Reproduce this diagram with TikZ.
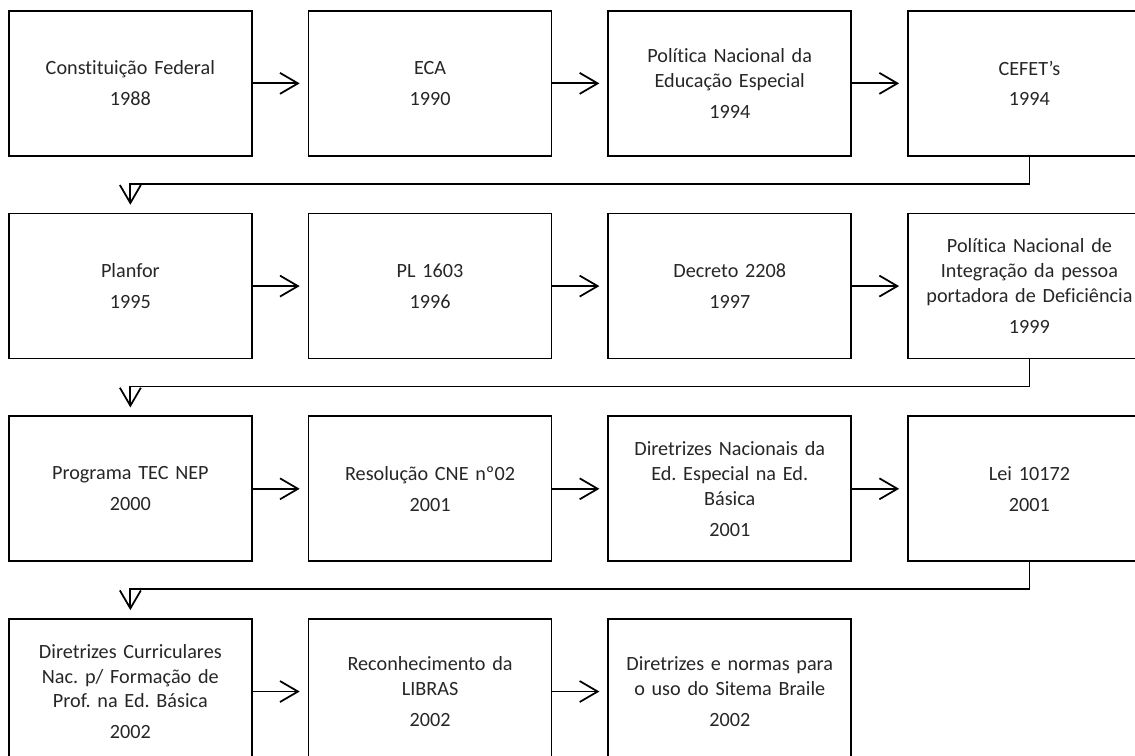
\documentclass[tikz,border=0pt]{standalone}
\usepackage{fontspec}
\setmainfont{Carlito}[Ligatures=NoCommon]
\usepackage{tikz}
\usetikzlibrary{arrows.meta, positioning}
\frenchspacing

\begin{document}
\begin{tikzpicture}[
  x=0.02cm, y=-0.02cm,
  node distance=1.12cm and 1.1cm,
  box/.style={draw, line width=1pt, minimum width=4.86cm, minimum height=2.9cm,
              text width=4.7cm, inner xsep=0.08cm, align=center, text=black!85,
              font=\fontsize{11.5}{14.2}\selectfont},
  arr/.style={-{Straight Barb[length=3.6mm, width=4.2mm, line width=1pt]},
              line width=1pt, shorten >=1.6mm}
]
\useasboundingbox (0,0) rectangle (1135,755);

% linha 1
\node[box, anchor=north west] (cf) at (8,10) {Constituição Federal\\[3.4pt]1988};
\node[box, right=of cf] (eca) {ECA\\[3.4pt]1990};
\node[box, right=of eca] (pnee) {Política Nacional da\\Educação Especial\\[3.4pt]1994};
\node[box, right=of pnee] (cefet) {CEFET's\\[3.4pt]1994};
% linha 2
\node[box, below=of cf] (planfor) {Planfor\\[3.4pt]1995};
\node[box, right=of planfor] (pl) {PL 1603\\[3.4pt]1996};
\node[box, right=of pl] (decreto) {Decreto 2208\\[3.4pt]1997};
\node[box, right=of decreto] (pni) {Política Nacional de\\Integração da pessoa\\portadora de Deficiência\\[3.4pt]1999};
% linha 3
\node[box, below=of planfor] (tecnep) {Programa TEC NEP\\[3.4pt]2000};
\node[box, right=of tecnep] (cne) {Resolução CNE nº02\\[3.4pt]2001};
\node[box, right=of cne] (dnee) {Diretrizes Nacionais da\\Ed. Especial na Ed.\\Básica\\[3.4pt]2001};
\node[box, right=of dnee] (lei) {Lei 10172\\[3.4pt]2001};
% linha 4
\node[box, below=of tecnep] (dcn) {Diretrizes Curriculares\\Nac. p/ Formação de\\Prof. na Ed. Básica\\[3.4pt]2002};
\node[box, right=of dcn] (libras) {Reconhecimento da\\LIBRAS\\[3.4pt]2002};
\node[box, right=of libras] (braile) {Diretrizes e normas para\\o uso do Sitema Braile\\[3.4pt]2002};

\draw[arr] (cf) -- (eca);
\draw[arr] (eca) -- (pnee);
\draw[arr] (pnee) -- (cefet);
\draw[arr] (cefet.south) -- ++(0,27) -| (planfor.north);
\draw[arr] (planfor) -- (pl);
\draw[arr] (pl) -- (decreto);
\draw[arr] (decreto) -- (pni);
\draw[arr] (pni.south) -- ++(0,27) -| (tecnep.north);
\draw[arr] (tecnep) -- (cne);
\draw[arr] (cne) -- (dnee);
\draw[arr] (dnee) -- (lei);
\draw[arr] (lei.south) -- ++(0,27) -| (dcn.north);
\draw[arr] (dcn) -- (libras);
\draw[arr] (libras) -- (braile);
\end{tikzpicture}
\end{document}
